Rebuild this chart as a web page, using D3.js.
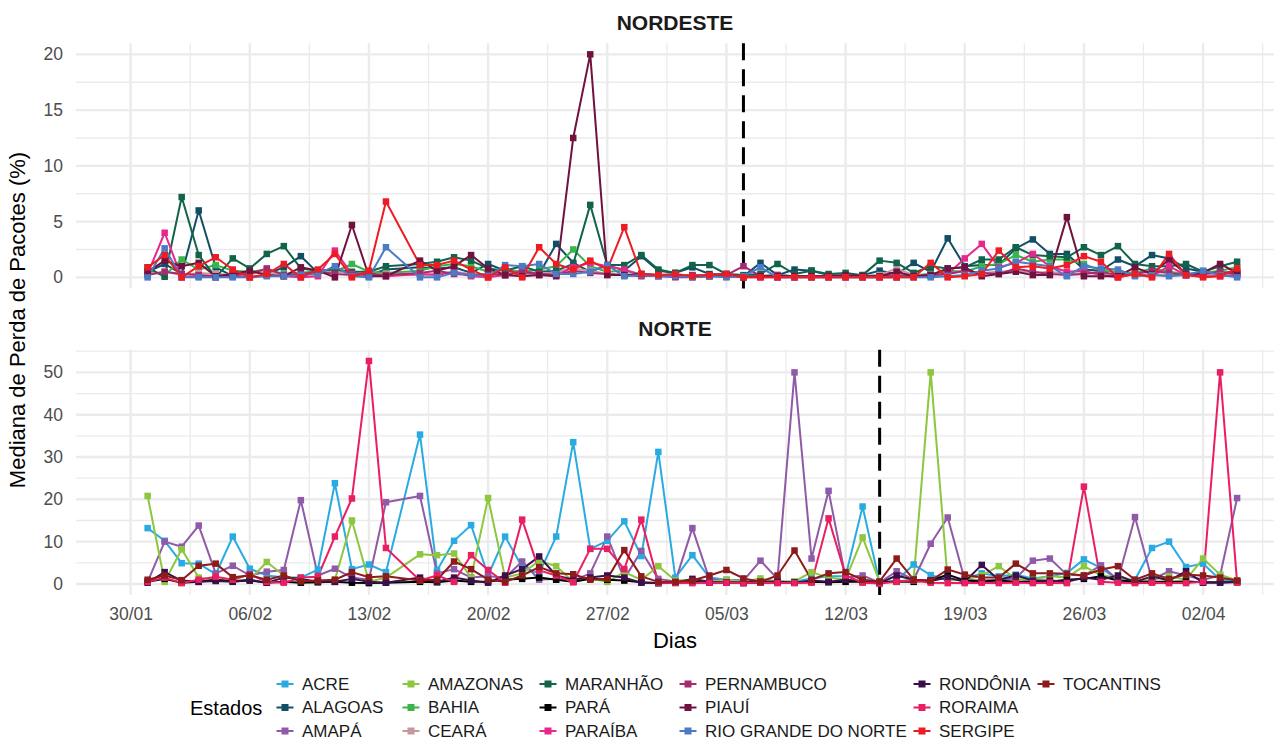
<!DOCTYPE html>
<html>
<head>
<meta charset="utf-8">
<script src="https://cdn.jsdelivr.net/npm/d3@7"></script>
<style>
  body { margin: 0; background: #ffffff; }
  svg { display: block; }
  text { font-family: "Liberation Sans", Arial, Helvetica, sans-serif; }
</style>
</head>
<body>
<svg id="chart" width="1285" height="739"></svg>
<script>
// ---- Data -----------------------------------------------------------------
// Observation days (15/02 has no measurements)
const days = [
  "2020-01-31",
  "2020-02-01","2020-02-02","2020-02-03","2020-02-04","2020-02-05","2020-02-06","2020-02-07",
  "2020-02-08","2020-02-09","2020-02-10","2020-02-11","2020-02-12","2020-02-13","2020-02-14",
  "2020-02-16","2020-02-17","2020-02-18","2020-02-19","2020-02-20","2020-02-21","2020-02-22",
  "2020-02-23","2020-02-24","2020-02-25","2020-02-26","2020-02-27","2020-02-28","2020-02-29",
  "2020-03-01","2020-03-02","2020-03-03","2020-03-04","2020-03-05","2020-03-06","2020-03-07",
  "2020-03-08","2020-03-09","2020-03-10","2020-03-11","2020-03-12","2020-03-13","2020-03-14",
  "2020-03-15","2020-03-16","2020-03-17","2020-03-18","2020-03-19","2020-03-20","2020-03-21",
  "2020-03-22","2020-03-23","2020-03-24","2020-03-25","2020-03-26","2020-03-27","2020-03-28",
  "2020-03-29","2020-03-30","2020-03-31",
  "2020-04-01","2020-04-02","2020-04-03","2020-04-04"
];

// Weekly axis labels
const weekTicks = ["30/01","06/02","13/02","20/02","27/02","05/03","12/03","19/03","26/03","02/04"];

// Reference dates marked with a dashed line in each region
const markerDayNordeste = "2020-03-06";
const markerDayNorte = "2020-03-14";

const regions = ["NORDESTE", "NORTE"];
const statesNordeste = ["ALAGOAS","BAHIA","CEARÁ","MARANHÃO","PARAÍBA","PERNAMBUCO","PIAUÍ","RIO GRANDE DO NORTE","SERGIPE"];
const statesNorte = ["ACRE","AMAPÁ","AMAZONAS","PARÁ","RONDÔNIA","RORAIMA","TOCANTINS"];

const stateNames = ["ACRE","ALAGOAS","AMAPÁ","AMAZONAS","BAHIA","CEARÁ","MARANHÃO","PARÁ",
  "PARAÍBA","PERNAMBUCO","PIAUÍ","RIO GRANDE DO NORTE","RONDÔNIA","RORAIMA","SERGIPE","TOCANTINS"];
const stateColors = ["#29abe2","#124e66","#8f5aa8","#8dc63f","#39b54a","#c7969f","#11634a","#000000",
  "#e8268c","#a52a6f","#70123f","#4b7bc4","#3b0f4b","#e91e63","#ed1c24","#8e1b1b"];

// Median packet loss (%) per day
const acre = [13.2,10.2,4.9,4.8,2.3,11.2,3.6,2.0,1.5,1.5,3.4,23.8,3.5,4.6,2.8,
  35.3,3.2,10.2,13.9,2.0,11.2,4.0,2.5,11.2,33.5,8.3,10.2,14.8,6.6,
  31.2,1.5,6.8,1.5,1.0,0.8,0.6,0.5,0.5,1.3,1.8,1.8,18.3,0.2,0.8,4.6,2.1,0.8,1.2,2.5,
  1.8,2.2,1.3,1.8,2.6,5.8,3.8,1.0,1.0,8.5,10.0,4.0,4.8,1.0,0.8];
const alagoas = [0.5,1.2,0.3,6.0,0.9,0.1,0.5,0.3,0.9,1.9,0.4,0.6,0.4,0.2,0.7,
  0.9,0.8,0.9,0.4,1.2,0.6,0.4,0.3,3.0,1.3,0.5,1.1,0.6,1.9,
  0.6,0.4,0.9,0.3,0.2,0.1,1.3,0.2,0.7,0.6,0.2,0.1,0.2,0.6,0.3,1.3,0.5,3.5,1.0,1.1,
  1.1,2.6,3.4,2.1,2.1,0.7,0.6,1.6,1.0,2.0,1.7,0.8,0.5,0.4,0.5];
const amapa = [0.5,10.0,8.8,13.8,2.5,4.3,2.0,2.9,3.3,19.8,2.0,3.6,1.5,1.0,19.3,
  20.8,2.5,3.5,1.5,1.8,1.5,5.3,1.0,1.2,0.8,2.5,11.2,1.2,7.8,
  1.2,0.6,13.2,1.1,0.8,0.8,5.5,1.2,50.0,6.0,22.0,1.5,2.0,0.3,3.0,1.0,9.5,15.7,1.0,0.8,
  1.0,1.3,5.5,6.0,2.2,2.0,4.4,1.0,15.8,1.0,3.0,2.0,1.0,2.0,20.3];
const amazonas = [20.8,0.5,8.2,1.5,1.0,0.8,1.0,5.2,2.0,0.8,0.5,1.0,15.0,0.5,1.5,
  7.0,6.8,7.2,1.5,20.3,1.5,2.5,5.5,4.2,0.5,1.2,0.5,2.8,1.0,
  4.2,0.8,1.0,0.5,1.0,0.5,1.3,0.6,0.6,2.8,1.5,1.0,11.0,0.5,0.5,1.2,50.0,0.8,1.0,2.0,
  4.2,1.2,1.0,1.8,1.5,4.2,2.0,1.5,0.5,1.0,1.8,1.0,6.0,2.2,0.8];
const bahia = [0.6,0.2,1.6,0.7,1.1,0.6,0.5,0.7,0.3,0.4,0.6,0.5,1.2,0.5,0.4,
  0.6,1.0,1.2,1.0,0.5,0.7,0.5,0.7,1.0,2.5,1.0,0.5,0.6,0.3,
  0.2,0.1,0.2,0.1,0.1,0.1,0.1,0.2,0.1,0.1,0.1,0.1,0.1,0.2,0.1,0.2,0.3,0.6,0.5,1.0,
  1.2,2.0,1.4,1.6,1.6,1.2,0.6,0.5,0.4,0.8,0.5,0.3,0.4,0.6,0.9];
const ceara = [0.3,0.5,0.2,0.4,0.3,0.2,0.3,0.5,0.2,0.3,0.4,0.6,0.3,0.2,0.3,
  0.2,0.3,0.5,0.3,0.2,0.4,0.3,0.2,0.5,0.8,0.6,0.3,0.2,0.2,
  0.1,0.2,0.1,0.1,0.1,0.1,0.2,0.1,0.1,0.1,0.1,0.1,0.1,0.2,0.8,0.2,0.2,0.3,0.6,0.4,
  0.5,0.6,0.4,0.5,0.3,0.4,0.3,0.2,0.2,0.3,0.2,0.2,0.3,0.2,0.2];
const maranhao = [0.9,0.05,7.2,2.0,0.0,1.7,0.8,2.1,2.8,0.8,0.6,0.7,0.5,0.5,1.0,
  1.2,1.4,1.8,1.5,0.8,0.6,1.0,0.5,0.6,1.2,6.5,1.1,1.1,2.0,
  0.7,0.4,1.1,1.1,0.3,0.2,0.3,1.2,0.3,0.6,0.3,0.4,0.2,1.5,1.3,0.4,1.0,0.8,0.9,1.6,
  1.6,2.7,2.0,1.9,1.8,2.7,2.0,2.8,1.2,1.0,1.0,1.2,0.5,1.0,1.4];
const para = [0.5,1.2,0.3,0.5,1.0,0.6,0.8,0.3,0.5,0.3,0.4,0.5,0.3,0.2,0.3,
  0.5,0.4,0.8,0.5,0.6,1.0,1.2,1.5,1.0,0.5,1.2,1.0,0.8,0.4,
  0.2,0.3,0.5,0.3,0.4,0.2,0.3,0.4,0.3,0.5,0.4,0.5,0.6,0.4,0.6,0.5,0.8,2.2,0.8,0.6,
  0.8,0.5,0.6,0.5,1.0,1.2,1.8,0.8,0.6,0.5,0.5,0.6,0.4,0.4,0.4];
const paraiba = [0.3,4.0,0.0,0.1,0.0,0.1,0.0,0.2,0.1,0.0,0.1,2.4,0.3,0.2,0.1,
  0.3,0.2,0.5,0.1,0.0,0.2,0.6,0.3,0.2,0.9,1.3,1.0,0.7,0.2,
  0.1,0.0,0.0,0.1,0.1,0.0,0.0,0.0,0.0,0.0,0.0,0.0,0.0,0.0,0.0,0.1,0.2,0.3,1.7,3.0,
  0.9,1.3,2.1,1.0,0.5,0.6,0.2,0.0,0.3,0.1,1.0,0.2,0.1,0.1,0.2];
const pernambuco = [0.2,0.5,0.3,0.2,0.1,0.2,0.3,0.8,0.2,0.3,0.5,0.3,0.2,0.3,0.2,
  0.4,0.6,0.3,0.2,0.3,0.2,0.5,0.3,0.2,0.6,0.4,0.3,0.2,0.1,
  0.2,0.1,0.2,0.1,0.2,1.0,0.1,0.2,0.1,0.1,0.1,0.1,0.1,0.1,0.2,0.1,0.2,0.3,0.6,0.4,
  0.3,0.8,0.5,0.3,0.2,0.3,0.5,0.2,0.3,0.6,0.4,0.2,0.3,0.5,0.3];
const piaui = [0.5,1.5,1.0,1.3,0.1,0.3,0.6,0.2,0.1,0.9,0.6,0.0,4.7,0.1,0.1,
  1.5,0.6,1.0,2.0,0.8,0.2,0.1,0.2,0.1,12.5,20.0,0.2,0.2,0.3,
  0.2,0.1,0.1,0.2,0.3,0.0,0.1,0.1,0.1,0.1,0.1,0.2,0.1,0.1,0.5,0.1,0.2,0.8,0.9,0.1,
  0.3,0.5,0.2,0.2,5.4,0.1,0.1,0.1,0.9,0.3,1.6,0.3,0.4,1.2,0.4];
const rioGrandeDoNorte = [0.0,2.6,0.0,0.0,0.0,0.0,0.0,0.1,0.1,0.2,0.3,1.0,0.1,0.0,2.7,
  0.0,0.0,0.4,0.2,0.1,1.1,1.0,1.2,0.3,0.3,0.5,1.1,0.1,0.2,
  0.1,0.1,0.0,0.1,0.0,0.1,0.9,0.0,0.0,0.0,0.0,0.0,0.0,0.0,0.0,0.0,0.0,0.1,0.2,0.6,
  0.8,1.4,1.2,1.0,0.1,1.0,0.8,0.7,0.1,0.2,0.1,0.2,0.6,0.2,0.0];
const rondonia = [0.3,2.8,0.8,0.5,0.7,0.5,1.0,0.3,1.5,1.2,0.5,0.5,1.2,0.5,0.3,
  1.5,0.5,1.5,0.8,0.3,2.0,3.5,6.5,2.0,1.0,1.5,2.0,1.5,0.3,
  0.2,0.3,1.2,0.5,0.3,0.4,0.5,0.6,0.3,0.8,0.5,1.0,0.7,0.2,2.0,1.0,0.7,1.5,0.5,4.5,
  1.0,2.0,0.8,0.8,0.5,1.5,1.0,2.0,0.5,1.8,0.8,3.0,0.3,0.3,0.5];
const roraima = [0.5,1.5,0.2,1.0,1.7,1.0,2.3,0.5,0.3,1.5,1.7,11.2,20.2,52.7,8.5,
  0.8,2.0,0.5,6.8,3.3,0.3,15.2,3.2,2.0,0.4,8.3,8.3,3.5,15.2,
  0.3,0.2,0.2,0.3,0.3,0.2,0.3,0.2,0.2,0.3,15.5,2.0,0.3,0.1,0.5,0.8,0.3,0.2,0.2,0.3,
  0.2,0.3,0.2,0.3,0.2,23.0,0.5,0.3,0.2,0.3,0.2,0.2,0.5,50.0,0.3];
const sergipe = [0.9,2.0,0.0,1.0,1.8,0.7,0.0,0.3,1.2,0.0,0.7,2.1,0.0,0.6,6.8,
  1.1,1.1,1.5,0.7,0.0,0.9,0.0,2.7,1.2,0.7,1.5,0.7,4.5,0.3,
  0.2,0.3,0.1,0.2,0.3,0.0,0.0,0.0,0.0,0.0,0.0,0.0,0.0,0.0,0.0,0.0,1.3,0.0,0.1,0.3,
  2.4,0.9,1.0,0.8,1.1,1.9,1.4,0.0,0.3,0.0,2.1,0.2,0.0,0.1,0.8];
const tocantins = [1.0,2.0,0.9,4.3,4.8,1.6,2.0,1.0,2.0,0.6,0.8,1.0,2.8,1.6,1.8,
  0.8,1.0,5.3,3.5,1.0,0.5,2.0,4.0,2.5,2.3,1.0,1.2,8.0,1.8,
  0.5,0.5,0.8,2.0,3.3,1.3,0.5,2.0,7.9,1.0,2.5,2.8,1.0,0.6,6.0,1.0,0.8,3.4,2.2,1.5,
  1.5,4.8,2.5,2.5,2.4,2.0,3.4,4.2,1.0,2.5,1.2,2.2,2.0,1.5,0.8];

const seriesByState = {
  "ACRE": acre, "ALAGOAS": alagoas, "AMAPÁ": amapa, "AMAZONAS": amazonas, "BAHIA": bahia,
  "CEARÁ": ceara, "MARANHÃO": maranhao, "PARÁ": para, "PARAÍBA": paraiba, "PERNAMBUCO": pernambuco,
  "PIAUÍ": piaui, "RIO GRANDE DO NORTE": rioGrandeDoNorte, "RONDÔNIA": rondonia,
  "RORAIMA": roraima, "SERGIPE": sergipe, "TOCANTINS": tocantins
};

// ---- Scales ---------------------------------------------------------------
const parseDay = d3.timeParse("%Y-%m-%d");
const parseTick = s => d3.timeParse("%d/%m/%Y")(s + "/2020");
const dayDates = days.map(parseDay);
const tickDates = weekTicks.map(parseTick);

const svg = d3.select("#chart");
const panelLeft = 76, panelRight = 1274;

// Axis span: the weekly grid plus a 5% margin of the plotted period
const firstTick = tickDates[0];
const span = 64; // days
const pad = span * 0.05;
const x = d3.scaleTime()
  .domain([d3.timeHour.offset(firstTick, -pad * 24), d3.timeHour.offset(firstTick, (span + pad) * 24)])
  .range([panelLeft, panelRight]);

const color = d3.scaleOrdinal().domain(stateNames).range(stateColors);

const panels = [
  { name: "NORDESTE", states: statesNordeste, top: 43.2, bottom: 288.5, step: 5, marker: markerDayNordeste, stripY: 22 },
  { name: "NORTE", states: statesNorte, top: 349.8, bottom: 595.1, step: 10, marker: markerDayNorte, stripY: 328 }
];

const gridColor = "#ebebeb";

panels.forEach(p => {
  const vmax = d3.max(p.states, s => d3.max(seriesByState[s]));
  const y = d3.scaleLinear().domain([-0.05 * vmax, vmax * 1.05]).range([p.bottom, p.top]);
  const g = svg.append("g");

  // minor vertical grid (half weeks)
  const xMinor = d3.timeHour.range(x.domain()[0], x.domain()[1])
    .filter(d => { const h = (d - firstTick) / 3600000; return ((h % 168) + 168) % 168 === 84; });
  g.selectAll(".vminor").data(xMinor).join("line")
    .attr("x1", d => x(d)).attr("x2", d => x(d)).attr("y1", p.top).attr("y2", p.bottom)
    .attr("stroke", gridColor).attr("stroke-width", 1.3);

  // horizontal grid
  const yMajor = d3.range(0, vmax * 1.05 + 1e-9, p.step);
  const yMinor = d3.range(p.step / 2, vmax * 1.05, p.step).filter(v => v > y.domain()[0]);
  g.selectAll(".hminor").data(yMinor).join("line")
    .attr("x1", panelLeft).attr("x2", panelRight).attr("y1", d => y(d)).attr("y2", d => y(d))
    .attr("stroke", gridColor).attr("stroke-width", 1.3);
  g.selectAll(".hmajor").data(yMajor).join("line")
    .attr("x1", panelLeft).attr("x2", panelRight).attr("y1", d => y(d)).attr("y2", d => y(d))
    .attr("stroke", gridColor).attr("stroke-width", 2.4);

  // major vertical grid (weekly)
  g.selectAll(".vmajor").data(tickDates).join("line")
    .attr("x1", d => x(d)).attr("x2", d => x(d)).attr("y1", p.top).attr("y2", p.bottom)
    .attr("stroke", gridColor).attr("stroke-width", 2.4);

  // y axis labels
  const yAxis = d3.axisLeft(y).tickValues(yMajor).tickSize(0).tickPadding(0);
  const ya = g.append("g").attr("transform", `translate(${panelLeft - 13},0)`).call(yAxis);
  ya.select(".domain").remove();
  ya.selectAll("text").attr("fill", "#4d4d4d").style("font-size", "17.5px")
    .style("font-family", '"Liberation Sans", Arial, sans-serif');

  // strip title
  g.append("text").attr("x", (panelLeft + panelRight) / 2).attr("y", p.stripY)
    .attr("text-anchor", "middle").attr("dominant-baseline", "central")
    .attr("font-weight", "bold").attr("font-size", 21).attr("fill", "#1a1a1a").text(p.name);

  // series lines
  const line = d3.line().x((d, i) => x(dayDates[i])).y(d => y(d));
  g.selectAll(".series").data(p.states).join("path")
    .attr("d", s => line(seriesByState[s]))
    .attr("fill", "none").attr("stroke", s => color(s)).attr("stroke-width", 2)
    .attr("stroke-linejoin", "round");

  // dashed reference line
  const mx = x(parseDay(p.marker));
  g.append("line").attr("x1", mx).attr("x2", mx).attr("y1", p.top).attr("y2", p.bottom)
    .attr("stroke", "#000").attr("stroke-width", 3).attr("stroke-dasharray", "17,9");

  // points
  const pts = p.states.flatMap(s => seriesByState[s].map((v, i) => ({ s, v, d: dayDates[i] })));
  const sz = 6.5;
  g.selectAll(".pt").data(pts).join("rect")
    .attr("x", d => x(d.d) - sz / 2).attr("y", d => y(d.v) - sz / 2)
    .attr("width", sz).attr("height", sz).attr("fill", d => color(d.s));
});

// x axis labels (bottom panel only)
const fmt = d3.timeFormat("%d/%m");
const xa = svg.append("g").attr("transform", `translate(0,${595.1 + 4})`)
  .call(d3.axisBottom(x).tickValues(tickDates).tickFormat(fmt).tickSize(0).tickPadding(8));
xa.select(".domain").remove();
xa.selectAll("text").attr("fill", "#4d4d4d").style("font-size", "17.5px")
  .style("font-family", '"Liberation Sans", Arial, sans-serif');

// axis titles
svg.append("text").attr("x", (panelLeft + panelRight) / 2).attr("y", 648)
  .attr("text-anchor", "middle").attr("font-size", 22).attr("fill", "#000").text("Dias");
svg.append("text").attr("transform", "translate(25,320) rotate(-90)")
  .attr("text-anchor", "middle").attr("font-size", 22).attr("fill", "#000")
  .text("Mediana de Perda de Pacotes (%)");

// ---- Legend ---------------------------------------------------------------
const legend = svg.append("g");
legend.append("text").attr("x", 190).attr("y", 707.5).attr("dominant-baseline", "central")
  .attr("font-size", 20).attr("fill", "#000").text("Estados");
const colKeyX = [285, 411, 548, 688, 922, 1046];
const rowY = [684, 707.5, 731];
stateNames.forEach((s, k) => {
  const cx = colKeyX[Math.floor(k / 3)], cy = rowY[k % 3];
  const item = legend.append("g");
  item.append("line").attr("x1", cx - 8.5).attr("x2", cx + 8.5).attr("y1", cy).attr("y2", cy)
    .attr("stroke", color(s)).attr("stroke-width", 2);
  item.append("rect").attr("x", cx - 3.5).attr("y", cy - 3.5).attr("width", 7).attr("height", 7)
    .attr("fill", color(s));
  item.append("text").attr("x", cx + 17).attr("y", cy).attr("dominant-baseline", "central")
    .attr("font-size", 17).attr("fill", "#1a1a1a").text(s);
});
</script>
</body>
</html>
